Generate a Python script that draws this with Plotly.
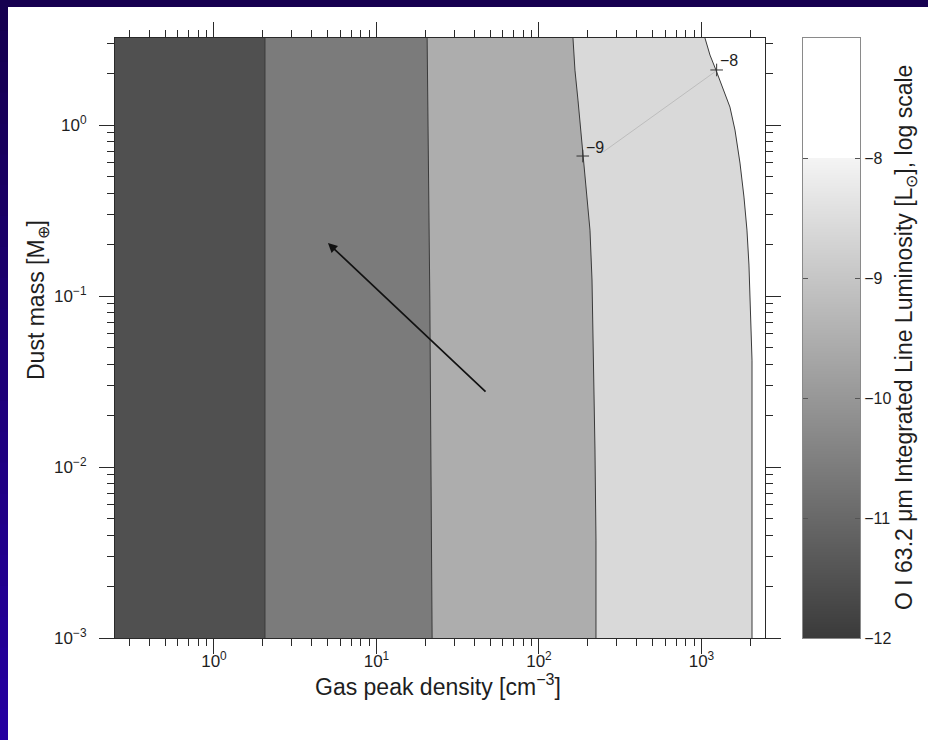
import numpy as np
import plotly.graph_objects as go

W, H = 928, 740

# Axis extents: gas peak density [cm^-3] and dust mass [M_earth]
X_RANGE = [0.246, 2460.0]
Y_RANGE = [0.001, 3.23]

# Luminosity contour levels (log10 L / L_sun) and the band colour left of each
LEVELS = [-8, -9, -10, -11]
BAND_COLORS = ['#d9d9d9', '#adadad', '#7b7b7b', '#505050']

# Contour lines: gas density at which each level is reached, per dust mass
C8_MASS = [3.228, 2.567, 2.097, 1.646, 1.274, 0.935, 0.5995, 0.3793,
           0.2432, 0.1518, 0.0987, 0.0633, 0.0422, 0.001]
C8_DENS = [1051, 1128, 1228, 1356, 1497, 1608, 1726, 1826,
           1905, 1960, 1988, 2017, 2046, 2046]
C9_MASS = [3.228, 2.097, 1.40, 0.668, 0.3897, 0.243, 0.1241, 0.0633,
           0.0282, 0.01258, 0.00374, 0.001]
C9_DENS = [161.9, 166.5, 173.8, 186.6, 197.4, 206.0, 212.0, 214.9,
           218.0, 221.1, 224.3, 224.3]
C10_MASS = [3.228, 0.0948, 0.001]
C10_DENS = [20.5, 21.3, 22.0]
C11_MASS = [3.228, 0.001]
C11_DENS = [2.06, 2.06]

CONTOURS = [(C8_DENS, C8_MASS), (C9_DENS, C9_MASS),
            (C10_DENS, C10_MASS), (C11_DENS, C11_MASS)]

# Labelled points on the -9 and -8 contours
LABEL_DENS = [186.0, 1240.0]
LABEL_MASS = [0.659, 2.10]
LABEL_TEXT = ['\u22129', '\u22128']

# Thin guide joining the two labels
GUIDE_DENS = [247.7, 1228.0]
GUIDE_MASS = [0.695, 2.07]

# Arrow: tail and head (density, mass)
ARROW_TAIL = (47.9, 0.0271)
ARROW_HEAD = (5.03, 0.204)

# Colour bar ramp (log10 luminosity)
CBAR_LEVELS = [-12, -11, -10, -9, -8, -7]
CBAR_TICKS = [-12, -11, -10, -9, -8]

FONT = 'Liberation Sans, Arial, Helvetica, sans-serif'
INK = '#2a2a2a'
TXT = '#1e1e1e'

fig = go.Figure()

# Filled bands: each polygon covers everything left of its contour,
# drawn from the brightest level down so darker bands sit on top.
for (dens, mass), col in zip(CONTOURS, BAND_COLORS):
    px = list(dens) + [X_RANGE[0] / 1.5, X_RANGE[0] / 1.5]
    py = list(mass) + [mass[-1], mass[0]]
    fig.add_trace(go.Scatter(x=px, y=py, mode='lines', fill='toself',
                             fillcolor=col, line=dict(width=0),
                             hoverinfo='skip', showlegend=False))

# Contour lines
for dens, mass in CONTOURS:
    fig.add_trace(go.Scatter(x=dens, y=mass, mode='lines',
                             line=dict(color='#3a3a3a', width=1),
                             hoverinfo='skip', showlegend=False))

# Guide line between the contour labels
fig.add_trace(go.Scatter(x=GUIDE_DENS, y=GUIDE_MASS, mode='lines',
                         line=dict(color='#bdbdbd', width=1),
                         hoverinfo='skip', showlegend=False))

# Label crosses
fig.add_trace(go.Scatter(x=LABEL_DENS, y=LABEL_MASS, mode='markers',
                         marker=dict(symbol='cross-thin', size=9,
                                     line=dict(color='#333333', width=1)),
                         hoverinfo='skip', showlegend=False))

for xd, yd, t in zip(LABEL_DENS, LABEL_MASS, LABEL_TEXT):
    fig.add_annotation(x=np.log10(xd), y=np.log10(yd), text=t, showarrow=False,
                       xanchor='left', yanchor='middle', xshift=1, yshift=9,
                       font=dict(family=FONT, size=16, color=TXT))

# Arrow
fig.add_annotation(x=np.log10(ARROW_HEAD[0]), y=np.log10(ARROW_HEAD[1]),
                   ax=np.log10(ARROW_TAIL[0]), ay=np.log10(ARROW_TAIL[1]),
                   xref='x', yref='y', axref='x', ayref='y', text='',
                   showarrow=True, arrowhead=2, arrowsize=1.1,
                   arrowwidth=1.7, arrowcolor='#111111')

# Colour bar drawn as a smooth heatmap on its own axes
cb_z = [[v, v] for v in CBAR_LEVELS]
fig.add_trace(go.Heatmap(z=cb_z, x=[0, 1], y=CBAR_LEVELS, xaxis='x2', yaxis='y2',
                         zmin=-12, zmax=-7, zsmooth='best', showscale=False,
                         hoverinfo='skip',
                         colorscale=[[0.0, '#3a3a3a'], [0.8, '#f4f4f4'],
                                     [0.8001, '#ffffff'], [1.0, '#ffffff']]))


def minor_vals(lo_exp, hi_exp):
    vals = []
    for e in range(lo_exp, hi_exp):
        vals += [m * 10.0 ** e for m in range(2, 10)]
    return vals


x_minor = [0.3, 0.4, 0.5, 0.6, 0.7, 0.8, 0.9] + minor_vals(0, 3) + [2000]
y_minor = minor_vals(-3, 0) + [2, 3]

tick_font = dict(family=FONT, size=17, color=TXT)


def px_dom(a, b):
    return [a / W, b / W]


def py_dom(top, bot):
    return [1 - bot / H, 1 - top / H]


axis_common = dict(type='log', showgrid=False, zeroline=False, showline=True,
                   linecolor=INK, linewidth=1, mirror='ticks', ticks='outside',
                   ticklen=15, tickwidth=1, tickcolor=INK, tickfont=tick_font,
                   automargin=False)

fig.update_layout(
    width=W, height=H,
    margin=dict(l=0, r=0, t=0, b=0),
    paper_bgcolor='white', plot_bgcolor='white',
    font=dict(family=FONT, color=TXT),
    xaxis=dict(axis_common, domain=px_dom(115, 765),
               range=[np.log10(X_RANGE[0]), np.log10(X_RANGE[1])],
               tickvals=[1, 10, 100, 1000],
               ticktext=['10<sup>0</sup>', '10<sup>1</sup>', '10<sup>2</sup>', '10<sup>3</sup>'],
               ticklabelstandoff=-7,
               minor=dict(tickvals=x_minor, ticks='outside', ticklen=7,
                          tickwidth=1, tickcolor=INK)),
    yaxis=dict(axis_common, domain=py_dom(38, 638),
               range=[np.log10(Y_RANGE[0]), np.log10(Y_RANGE[1])],
               tickvals=[0.001, 0.01, 0.1, 1],
               ticktext=['10<sup>\u22123</sup>', '10<sup>\u22122</sup>',
                         '10<sup>\u22121</sup>', '10<sup>0</sup>'],
               ticklabelstandoff=9,
               minor=dict(tickvals=y_minor, ticks='outside', ticklen=7,
                          tickwidth=1, tickcolor=INK)),
    xaxis2=dict(domain=px_dom(803, 860), range=[0, 1], anchor='y2',
                showgrid=False, zeroline=False, showticklabels=False, ticks='',
                showline=True, linecolor='#8a8a8a', linewidth=1, mirror=True),
    yaxis2=dict(domain=py_dom(38, 638), range=[-12, -7], anchor='x2', side='right',
                showgrid=False, zeroline=False, showline=True, linecolor='#8a8a8a',
                linewidth=1, mirror='ticks', ticks='inside', ticklen=5,
                tickcolor='#555555', tickvals=CBAR_TICKS,
                ticktext=['\u2212' + str(-v) for v in CBAR_TICKS],
                tickfont=dict(family=FONT, size=16, color=TXT),
                automargin=False),
)

# Axis titles
fig.add_annotation(x=438 / W, y=1 - 685 / H, xref='paper', yref='paper',
                   text='Gas peak density [cm<sup>\u22123</sup>]', showarrow=False,
                   xanchor='center', yanchor='middle',
                   font=dict(family=FONT, size=23, color=TXT))
fig.add_annotation(x=37 / W, y=1 - 300 / H, xref='paper', yref='paper',
                   text='Dust mass [M<sub>\u2295</sub>]', showarrow=False, textangle=-90,
                   xanchor='center', yanchor='middle',
                   font=dict(family=FONT, size=23, color=TXT))
fig.add_annotation(x=905 / W, y=1 - 338 / H, xref='paper', yref='paper',
                   text='O I 63.2 \u03bcm Integrated Line Luminosity [L<sub>\u2299</sub>], log scale',
                   showarrow=False, textangle=-90, xanchor='center', yanchor='middle',
                   font=dict(family=FONT, size=23, color=TXT))

# Page frame: dark top band and a left band shading to violet-blue
shapes = [dict(type='rect', xref='paper', yref='paper', x0=0, x1=1,
               y0=1 - 7 / H, y1=1, fillcolor='#160050', line=dict(width=0))]
n = 24
c0 = np.array([0x16, 0x00, 0x50])
c1 = np.array([0x26, 0x00, 0xa0])
for i in range(n):
    c = (c0 + (c1 - c0) * i / (n - 1)).astype(int)
    shapes.append(dict(type='rect', xref='paper', yref='paper', x0=0, x1=8 / W,
                       y0=1 - (i + 1) / n - 0.002, y1=1 - i / n,
                       fillcolor='rgb(%d,%d,%d)' % tuple(c), line=dict(width=0)))
fig.update_layout(shapes=shapes)

fig.write_html('out.html')
